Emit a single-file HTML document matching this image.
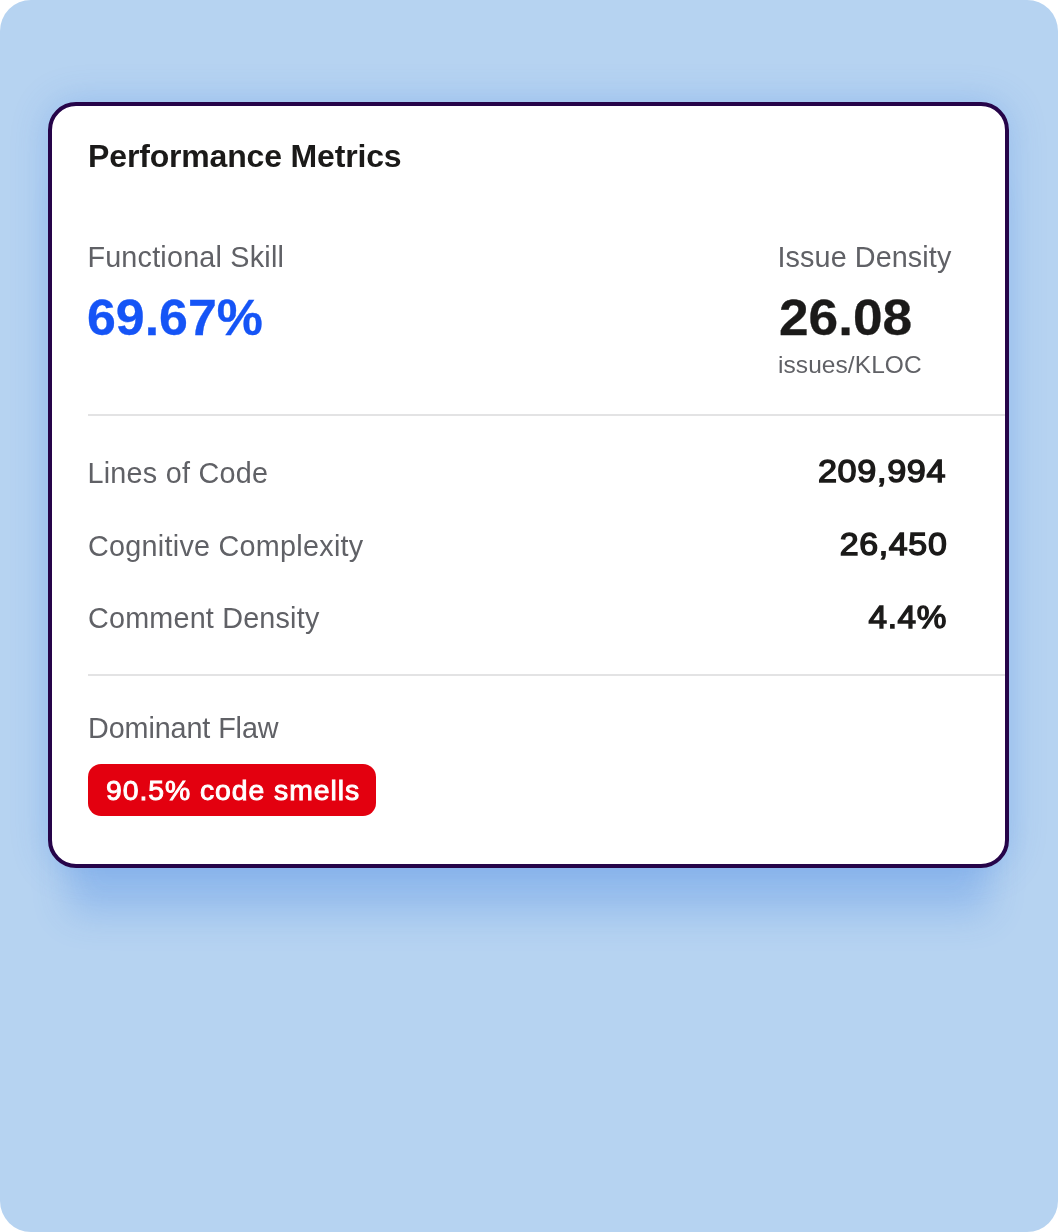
<!DOCTYPE html>
<html lang="en">
<head>
<meta charset="utf-8">
<title>Performance Metrics</title>
<style>
  html, body { margin: 0; padding: 0; background: #ffffff; }
  body { width: 1058px; height: 1232px; overflow: hidden; font-family: "Liberation Sans", sans-serif; }
  .stage {
    position: relative; width: 1058px; height: 1232px;
    background: #b6d3f1; border-radius: 31px; overflow: hidden;
  }
  .card {
    position: absolute; left: 48px; top: 102px; width: 953px; height: 758px;
    border: 4px solid #260449; border-radius: 28px; background: #ffffff;
    box-shadow: 0 0 36px rgba(50, 120, 225, 0.26), 0 66px 36px -20px rgba(50, 120, 225, 0.24);
    overflow: hidden;
  }
  /* every .t box uses line-height:1, so baseline = top + 0.8465em */
  .t { position: absolute; white-space: nowrap; line-height: 1; }
  .label { color: #606166; font-size: 28.75px; }
  .semi  { color: #1b1a19; font-weight: normal; -webkit-text-stroke: 1.35px #1b1a19; }
  .title { color: #1b1a19; font-size: 32px; font-weight: bold; letter-spacing: -0.17px; }
  .big   { font-weight: bold; font-size: 49.5px; -webkit-text-stroke: 0.3px currentColor; transform-origin: 0 50%; }
  .val   { font-size: 31px; text-align: right; transform-origin: 100% 50%; transform: scaleX(1.08); letter-spacing: 0.6px; }
  .hr { position: absolute; left: 36px; right: 0; height: 2px; background: #e3e3e4; }
  .badge {
    position: absolute; left: 36px; top: 658px; width: 288px; height: 52px;
    border-radius: 13px; background: #e3000f;
  }
  .badge span {
    position: absolute; left: 17.6px; top: 14.4px; line-height: 1; white-space: nowrap;
    color: #fff; font-size: 27px; font-weight: normal; -webkit-text-stroke: 0.9px #fff;
    letter-spacing: 0.9px; transform-origin: 0 50%; transform: scaleX(1.05);
  }
</style>
</head>
<body>
<div class="stage">
  <div class="card">
    <div class="t title" id="title" style="left:36.1px; top:34px;">Performance Metrics</div>

    <div class="t label" id="fs" style="left:35.4px; top:137.06px; letter-spacing:0.21px;">Functional Skill</div>
    <div class="t big" id="fsv" style="left:35.4px; top:187.1px; color:#1554f6; transform:scaleX(1.048);">69.67%</div>

    <div class="t label" id="idn" style="left:725.5px; top:137.06px; letter-spacing:0.1px;">Issue Density</div>
    <div class="t big" id="idv" style="left:726.6px; top:187.1px; color:#1b1a19; transform:scaleX(1.075);">26.08</div>
    <div class="t label" id="idu" style="left:726px; top:247px; font-size:24.5px; letter-spacing:0.07px;">issues/KLOC</div>

    <div class="hr" style="top:308px;"></div>

    <div class="t label" id="l1" style="left:35.4px; top:353.06px; letter-spacing:0.27px;">Lines of Code</div>
    <div class="t semi val" id="v1" style="right:58.4px; top:350.25px; transform:scaleX(1.104);">209,994</div>
    <div class="t label" id="l2" style="left:36px; top:425.66px; letter-spacing:0.27px;">Cognitive Complexity</div>
    <div class="t semi val" id="v2" style="right:57.9px; top:422.75px; transform:scaleX(1.095);">26,450</div>
    <div class="t label" id="l3" style="left:36px; top:498.46px; letter-spacing:0.2px;">Comment Density</div>
    <div class="t semi val" id="v3" style="right:57.9px; top:495.55px; transform:scaleX(1.075);">4.4%</div>

    <div class="hr" style="top:568px;"></div>

    <div class="t label" id="df" style="left:36px; top:607.66px; letter-spacing:-0.1px;">Dominant Flaw</div>
    <div class="badge" id="badge"><span id="bt">90.5% code smells</span></div>
  </div>
</div>
</body>
</html>
